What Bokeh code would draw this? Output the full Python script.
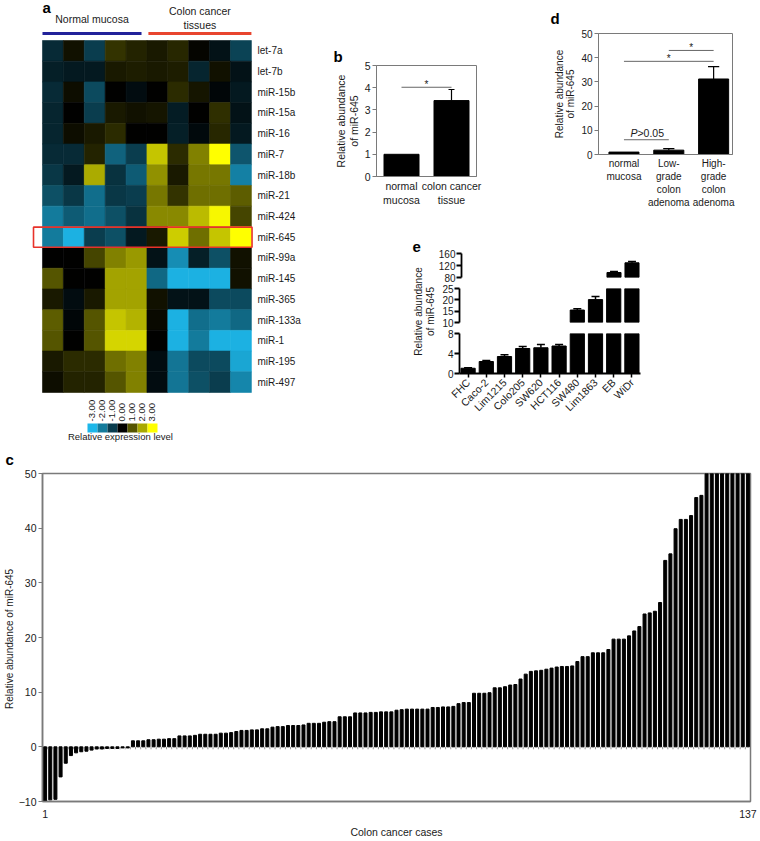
import math
from bokeh.plotting import figure
from bokeh.layouts import row, column
from bokeh.models import Range1d, FixedTicker, LinearAxis, ColumnDataSource
from bokeh.transform import linear_cmap
from bokeh.core.properties import value
from bokeh.embed import file_html
from bokeh.resources import INLINE

FONT = "Liberation Sans"
TXT = "#1a1a1a"
GRAY = "#7a7a7a"

# ---------------- data ----------------
# (a) heatmap
mirna_names = ["let-7a", "let-7b", "miR-15b", "miR-15a", "miR-16", "miR-7", "miR-18b",
               "miR-21", "miR-424", "miR-645", "miR-99a", "miR-145", "miR-365",
               "miR-133a", "miR-1", "miR-195", "miR-497"]
group_names = ["Normal mucosa", "Colon cancer\ntissues"]
group_sizes = [5, 5]
heat_values = [
    [-0.7, 0.2, -1.0, 0.6, 0.4, 0.3, 0.45, 0.05, -0.3, -1.1],
    [-0.5, -0.4, -0.4, 0.3, 0.35, 0.3, 0.35, -0.6, 0.2, -0.3],
    [-0.7, 0.15, -1.2, 0.0, -0.2, 0.0, 0.5, 0.25, -0.1, -0.4],
    [-0.6, 0.0, -1.0, 0.3, 0.2, 0.25, -0.45, 0.0, 0.55, -0.3],
    [-0.6, 0.15, 0.3, 0.5, 0.0, 0.0, -0.5, -0.15, 0.45, -0.4],
    [-0.7, -0.7, 0.4, -1.6, -1.0, 2.3, 0.5, 1.5, 3.0, -1.4],
    [-0.9, -0.4, 2.0, -0.8, -1.5, 1.7, 0.3, 1.4, 1.4, -2.1],
    [-1.3, -0.9, -1.8, -0.9, -1.0, 1.4, 0.6, 1.3, 1.3, 1.1],
    [-2.0, -1.5, -1.8, -1.3, -0.8, 1.6, 1.6, 2.2, 2.9, 0.8],
    [-2.0, -2.9, -1.0, -1.3, -0.4, 0.3, 2.4, 1.3, 2.3, 3.0],
    [0.0, 0.0, 0.8, 1.5, 1.8, -0.3, -2.3, -0.5, -1.3, 0.2],
    [1.0, 0.0, 0.0, 1.9, 1.9, -1.7, -2.9, -2.9, -2.9, 0.2],
    [0.3, -0.2, 0.3, 1.9, 1.9, 0.2, -0.3, -0.3, -1.2, -1.2],
    [1.1, -0.1, 1.0, 2.3, 2.1, 0.1, -2.9, -1.8, -2.0, -1.7],
    [1.0, 0.0, 1.0, 2.5, 2.5, 0.0, -2.9, -2.0, -2.9, -2.9],
    [0.3, 0.5, 0.5, 1.3, 1.5, -0.2, -1.9, -1.2, -1.2, -2.7],
    [0.15, 0.4, 0.4, 1.0, 1.5, -0.2, -1.9, -1.3, -1.0, -2.2],
]
legend_levels = [-3, -2, -1, 0, 1, 2, 3]
legend_title = "Relative expression level"
highlight_mirna = "miR-645"

# (b)
b_categories = ["normal\nmucosa", "colon cancer\ntissue"]
b_values = [1.0, 3.42]
b_errors = [0.0, 0.5]
b_yticks = [0, 1, 2, 3, 4, 5]
b_pairs = [(0, 1)]
b_pair_levels = [4.02]
b_pair_labels = ["*"]

# (d)
d_categories = ["normal\nmucosa", "Low-\ngrade\ncolon\nadenoma", "High-\ngrade\ncolon\nadenoma"]
d_values = [1.0, 1.8, 31.2]
d_errors = [0.0, 0.6, 5.1]
d_yticks = [0, 10, 20, 30, 40, 50]
d_pairs = [(0, 1), (0, 2), (1, 2)]
d_pair_levels = [6.1, 38.5, 43.0]
d_pair_labels = ["P>0.05", "*", "*"]

# (e)
e_cells = ["FHC", "Caco-2", "Lim1215", "Colo205", "SW620", "HCT116", "SW480", "Lim1863", "EB", "WiDr"]
e_values = [1.05, 2.4, 3.4, 5.0, 5.15, 5.5, 15.5, 20.1, 96.7, 129.0]
e_errors = [0.1, 0.2, 0.35, 0.4, 0.65, 0.3, 0.6, 1.4, 3.3, 4.0]
e_segments = [(80, 160), (10, 25), (0, 8)]
e_segment_ticks = [[80, 120, 160], [10, 15, 20, 25], [0, 4, 8]]

# (c)
c_negative = [-10.0, -9.7, -9.6, -5.5, -3.0, -1.6, -1.1, -0.9, -0.8, -0.6,
              -0.4, -0.4, -0.3, -0.3, -0.3, -0.2, -0.2]
c_low = [1.1, 1.1, 1.1, 1.3, 1.3, 1.4, 1.4, 1.5, 1.5, 2.0, 2.0, 2.0, 2.1, 2.3, 2.3,
         2.3, 2.3, 2.5, 2.5, 2.6, 2.8, 3.0, 3.0, 3.1, 3.1]
c_mid = [3.3, 3.3, 3.6, 3.7, 3.7, 3.9, 3.9, 3.9, 4.0, 4.3,
         4.3, 4.3, 4.5, 4.6, 4.6, 5.5, 5.5, 5.5, 6.2, 6.2,
         6.2, 6.3, 6.3, 6.4, 6.4, 6.4, 6.7, 6.8, 6.9, 6.9,
         6.9, 6.9, 6.9, 7.2, 7.2, 7.3, 7.3, 7.4, 7.9, 8.1,
         8.1, 9.8, 9.8, 9.8, 9.9, 10.8, 10.8, 11.0, 11.3, 11.4,
         12.4, 13.3, 13.8, 13.9, 14.0, 14.2, 14.4, 14.6, 14.7, 14.7,
         14.8, 15.6, 16.5, 16.5, 17.2, 17.2, 17.2, 17.8, 19.7, 19.7,
         19.7, 20.3, 21.2, 22.0, 24.3, 24.5, 24.8, 26.4, 34.1, 35.3,
         39.9, 41.6, 41.6, 42.3, 45.6, 46.0]
c_high = [52, 56, 60, 66, 72, 80, 90, 105, 125]
c_values = c_negative + c_low + c_mid + c_high
c_label_cases = [1, len(c_values)]
c_yticks = [-10, 0, 10, 20, 30, 40, 50]


# ---------------- helpers ----------------
def fig(**kw):
    p = figure(output_backend="svg", toolbar_location=None, **kw)
    try:
        p.frame_align = False
    except Exception:
        pass
    return p


def style_axis(ax, size="10px", line=GRAY):
    ax.major_label_text_font = FONT
    ax.major_label_text_font_size = size
    ax.major_label_text_color = TXT
    ax.axis_label_text_font = FONT
    ax.axis_label_text_font_size = size
    ax.axis_label_text_font_style = "normal"
    ax.axis_label_text_color = TXT
    ax.minor_tick_line_color = None
    ax.axis_line_color = line
    ax.major_tick_line_color = line


def panel_letter(p, text, offset, standoff):
    p.title.text = text
    p.title.align = "left"
    p.title.offset = offset
    p.title.standoff = standoff
    p.title.text_font = FONT
    p.title.text_font_size = "15px"
    p.title.text_font_style = "bold"
    p.title.text_color = "black"


def pad_lines(labels):
    n = max(l.count("\n") for l in labels)
    return [l + "\n " * (n - l.count("\n")) for l in labels]


# ---------------- (a) heatmap ----------------
def lerp(c0, c1, t):
    return tuple(int(round(a + (b - a) * t)) for a, b in zip(c0, c1))


CYAN, YEL, BLK = (29, 183, 233), (255, 255, 0), (0, 0, 0)
palette = []
for k in range(256):
    v = -3 + 6 * k / 255
    c = lerp(BLK, CYAN, -v / 3) if v < 0 else lerp(BLK, YEL, v / 3)
    palette.append("#%02x%02x%02x" % c)

n_rows = len(mirna_names)
n_cols = sum(group_sizes)
hx, hy, hv = [], [], []
for r, vals in enumerate(heat_values):
    for ci, v in enumerate(vals):
        hx.append(ci)
        hy.append(n_rows - 1 - r)
        hv.append(v)
hsrc = ColumnDataSource(dict(x=hx, y=hy, v=hv))

pa = fig(width=330, height=442, x_range=Range1d(-1.074, n_cols - 0.4),
         y_range=Range1d(-2.915, n_rows + 1.432),
         x_axis_location=None, y_axis_location=None,
         min_border_left=30, min_border_right=77, min_border_top=0, min_border_bottom=0)
pa.grid.visible = False
pa.outline_line_color = None
cmap = linear_cmap("v", palette, -3, 3)
pa.rect(x="x", y="y", width=1, height=1, source=hsrc, fill_color=cmap,
        line_color=cmap, line_width=0.6)

ax_r = LinearAxis(ticker=FixedTicker(ticks=list(range(n_rows)), minor_ticks=[]),
                  major_label_overrides={n_rows - 1 - i: n for i, n in enumerate(mirna_names)})
style_axis(ax_r, "10px")
ax_r.axis_line_color = None
ax_r.major_tick_line_color = None
ax_r.major_tick_out = 0
ax_r.major_tick_in = 0
ax_r.major_label_standoff = 4
pa.add_layout(ax_r, "right")

# group headers
top = n_rows - 0.5
starts = [-0.5, -0.5 + group_sizes[0] + 0.07]
ends = [-0.5 + group_sizes[0] - 0.26, -0.5 + n_cols]
pa.segment(x0=starts[:1], y0=[top + 0.34], x1=ends[:1], y1=[top + 0.34], line_color="#22229a", line_width=3)
pa.segment(x0=starts[1:], y0=[top + 0.34], x1=ends[1:], y1=[top + 0.34], line_color="#e8452f", line_width=3)
pa.text(x=[(s + e) / 2 for s, e in zip(starts, ends)], y=[top + 0.77, top + 0.48], text=group_names,
        text_align="center", text_baseline="bottom", text_font=value(FONT),
        text_font_size="10.5px", text_color=TXT, text_line_height=1.15)
pa.text(x=[-0.5], y=[top + 1.2], text=["a"], text_align="left", text_baseline="bottom",
        text_font=value(FONT), text_font_size="15px", text_font_style="bold", text_color="black")

# highlight box
hr = n_rows - 1 - mirna_names.index(highlight_mirna)
pa.rect(x=[(-0.93 + n_cols - 0.47) / 2], y=[hr], width=n_cols + 0.46, height=0.97,
        fill_color=None, line_color="#e8322a", line_width=1.6)

# colour legend
sw_w = 0.4787
sw_x = [1.654 + sw_w / 2 + k * sw_w for k in range(len(legend_levels))]
pa.rect(x=sw_x, y=[-2.214] * len(legend_levels), width=sw_w, height=0.435,
        fill_color=[palette[int(round((l + 3) / 6 * 255))] for l in legend_levels], line_color=None)
pa.text(x=sw_x, y=[-1.90] * len(legend_levels), text=["%.2f" % l for l in legend_levels],
        angle=math.pi / 2, text_align="left", text_baseline="middle",
        text_font=value(FONT), text_font_size="9.5px", text_color=TXT)
pa.text(x=[3.23], y=[-2.625], text=[legend_title], text_align="center", text_baseline="middle",
        text_font=value(FONT), text_font_size="9.5px", text_color=TXT)


# ---------------- bar panel helper ----------------
def bar_panel(width, height, borders, x_range, y_range, cats, vals, errs, yticks,
              bar_w, cap_w, ylabel, xsize, ysize):
    p = fig(width=width, height=height, x_range=x_range, y_range=y_range,
            min_border_left=borders[0], min_border_right=borders[1],
            min_border_top=borders[2], min_border_bottom=borders[3])
    p.grid.visible = False
    p.outline_line_color = GRAY
    idx = list(range(len(cats)))
    p.vbar(x=idx, top=vals, width=bar_w, color="black")
    ei = [i for i in idx if errs[i] > 0]
    p.segment(x0=ei, y0=[vals[i] for i in ei], x1=ei, y1=[vals[i] + errs[i] for i in ei],
              line_color="black", line_width=1.2)
    p.segment(x0=[i - cap_w / 2 for i in ei], y0=[vals[i] + errs[i] for i in ei],
              x1=[i + cap_w / 2 for i in ei], y1=[vals[i] + errs[i] for i in ei],
              line_color="black", line_width=1.2)
    p.yaxis.ticker = FixedTicker(ticks=yticks, minor_ticks=[])
    p.xaxis.ticker = FixedTicker(ticks=idx, minor_ticks=[])
    p.xaxis.major_label_overrides = {i: c for i, c in enumerate(pad_lines(cats))}
    style_axis(p.yaxis[0], ysize)
    style_axis(p.xaxis[0], xsize)
    p.xaxis.major_tick_line_color = None
    p.xaxis.major_tick_out = 0
    p.xaxis.major_tick_in = 0
    p.xaxis.major_label_standoff = 3
    p.yaxis.major_tick_out = 4
    p.yaxis.major_tick_in = 0
    p.yaxis.major_label_standoff = 2
    p.yaxis.axis_label = ylabel
    p.yaxis.axis_label_standoff = 2
    p.yaxis.axis_label_text_line_height = 1.05
    return p


# ---------------- (b) ----------------
pb = bar_panel(220, 238, (46, 74, 65, 62), Range1d(-0.5, 1.5), Range1d(0, 5),
               b_categories, b_values, b_errors, b_yticks, 0.7, 0.12,
               "Relative abundance\nof miR-645", "10.5px", "10.5px")
for (i0, i1), lv, lab in zip(b_pairs, b_pair_levels, b_pair_labels):
    pb.segment(x0=[i0], y0=[lv], x1=[i1], y1=[lv], line_color="#666", line_width=1)
    pb.text(x=[(i0 + i1) / 2], y=[lv + 0.14], text=[lab], text_align="center",
            text_baseline="middle", text_font=value(FONT), text_font_size="10px", text_color=TXT)
panel_letter(pb, "b", -43, 1)

# ---------------- (d) ----------------
pd_ = bar_panel(208, 238, (40, 26, 32, 84), Range1d(-0.568, 2.421), Range1d(0, 50),
                d_categories, d_values, d_errors, d_yticks, 0.67, 0.25,
                "Relative abundance\nof miR-645", "10px", "10px")
for (i0, i1), lv, lab in zip(d_pairs, d_pair_levels, d_pair_labels):
    pd_.segment(x0=[i0], y0=[lv], x1=[i1], y1=[lv], line_color="#666", line_width=1)
    if lab.startswith("P"):
        pd_.text(x=[0.3], y=[lv + 0.5], text=["P"], text_align="right", text_baseline="bottom",
                 text_font=value(FONT), text_font_size="10.5px", text_font_style="italic", text_color=TXT)
        pd_.text(x=[0.3], y=[lv + 0.5], text=[lab[1:]], text_align="left", text_baseline="bottom",
                 text_font=value(FONT), text_font_size="10.5px", text_color=TXT)
    else:
        pd_.text(x=[(i0 + i1) / 2], y=[lv + 1.3], text=[lab], text_align="center",
                 text_baseline="middle", text_font=value(FONT), text_font_size="10px", text_color=TXT)
panel_letter(pd_, "d", -48, 14)

# ---------------- (e) broken axis ----------------
pe_label = fig(width=105, height=204, x_range=Range1d(0, 105), y_range=Range1d(204, 0),
               x_axis_location=None, y_axis_location=None,
               min_border_left=0, min_border_right=0, min_border_top=0, min_border_bottom=0)
pe_label.grid.visible = False
pe_label.outline_line_color = None
pe_label.text(x=[94], y=[73], text=["Relative abundance\nof miR-645"], angle=math.pi / 2,
              text_align="center", text_baseline="middle", text_font=value(FONT),
              text_font_size="10px", text_color=TXT, text_line_height=1.1)
pe_label.text(x=[82], y=[3], text=["e"], text_align="left", text_baseline="top",
              text_font=value(FONT), text_font_size="15px", text_font_style="bold", text_color="black")

seg_layout = [(45, 15, 6), (45, 5, 6), (114, 5, 69)]
e_figs = []
e_idx = list(range(len(e_cells)))
for k, ((lo, hi), ticks, (h, bt, bb)) in enumerate(zip(e_segments, e_segment_ticks, seg_layout)):
    last = k == len(e_segments) - 1
    p = fig(width=323, height=h, x_range=Range1d(-0.472, len(e_cells) - 0.528),
            y_range=Range1d(lo, hi), x_axis_location="below" if last else None,
            min_border_left=24, min_border_right=118, min_border_top=bt, min_border_bottom=bb)
    p.grid.visible = False
    p.outline_line_color = None
    sel = [i for i in e_idx if e_values[i] > lo]
    p.vbar(x=sel, top=[min(e_values[i], hi) for i in sel], bottom=lo, width=0.78, color="black")
    ins = [i for i in e_idx if lo < e_values[i] <= hi]
    p.segment(x0=ins, y0=[e_values[i] for i in ins], x1=ins,
              y1=[e_values[i] + e_errors[i] for i in ins], line_color="black", line_width=1.5)
    p.segment(x0=[i - 0.22 for i in ins], y0=[e_values[i] + e_errors[i] for i in ins],
              x1=[i + 0.22 for i in ins], y1=[e_values[i] + e_errors[i] for i in ins],
              line_color="black", line_width=1.5)
    p.yaxis.ticker = FixedTicker(ticks=ticks, minor_ticks=[])
    style_axis(p.yaxis[0], "10px", "black")
    p.yaxis.axis_line_width = 1.8
    p.yaxis.major_tick_line_width = 1.8
    p.yaxis.major_tick_out = 5
    p.yaxis.major_tick_in = 0
    p.yaxis.major_label_standoff = 1
    if last:
        p.xaxis.ticker = FixedTicker(ticks=e_idx, minor_ticks=[])
        p.xaxis.major_label_overrides = {i: c for i, c in enumerate(e_cells)}
        style_axis(p.xaxis[0], "10.5px", "black")
        p.xaxis.axis_line_width = 1.8
        p.xaxis.major_tick_line_width = 1.5
        p.xaxis.major_tick_out = 4
        p.xaxis.major_tick_in = 0
        p.xaxis.major_label_orientation = math.pi / 4
        p.xaxis.major_label_standoff = 3
    e_figs.append(p)

# ---------------- (c) ----------------
n_cases = len(c_values)
case_idx = list(range(1, n_cases + 1))
pc = fig(width=758, height=398, x_range=Range1d(0.5, n_cases + 0.5), y_range=Range1d(-10, 50),
         min_border_left=40, min_border_right=8, min_border_top=31, min_border_bottom=37)
pc.grid.visible = False
pc.outline_line_color = GRAY
pc.outline_line_width = 1.5
pc.vbar(x=case_idx, top=c_values, bottom=0, width=0.58, color="black")
pc.segment(x0=[i + 0.5 for i in case_idx], y0=[0] * n_cases, x1=[i + 0.5 for i in case_idx],
           y1=[-0.45] * n_cases, line_color="#777", line_width=0.8)
pc.yaxis.ticker = FixedTicker(ticks=c_yticks, minor_ticks=[])
pc.xaxis.ticker = FixedTicker(ticks=c_label_cases, minor_ticks=[])
for ax in (pc.xaxis[0], pc.yaxis[0]):
    style_axis(ax, "10.5px")
    ax.axis_line_width = 1.5
pc.xaxis.major_tick_line_color = None
pc.xaxis.major_tick_out = 0
pc.xaxis.major_label_standoff = 8
pc.xaxis.axis_label = "Colon cancer cases"
pc.xaxis.axis_label_standoff = 5
pc.yaxis.major_tick_out = 4
pc.yaxis.major_tick_in = 0
pc.yaxis.major_label_standoff = 2
pc.yaxis.axis_label = "Relative abundance  of miR-645"
pc.yaxis.axis_label_standoff = 1
pc.yaxis.axis_label_text_font_size = "10px"
panel_letter(pc, "c", -37, 12)

# ---------------- layout ----------------
right_block = column(row(pb, pd_, spacing=0),
                     row(pe_label, column(*e_figs, spacing=0), spacing=0), spacing=0)
layout = column(row(pa, right_block, spacing=0), pc, spacing=0)

open("out.html", "w").write(file_html(layout, INLINE))
